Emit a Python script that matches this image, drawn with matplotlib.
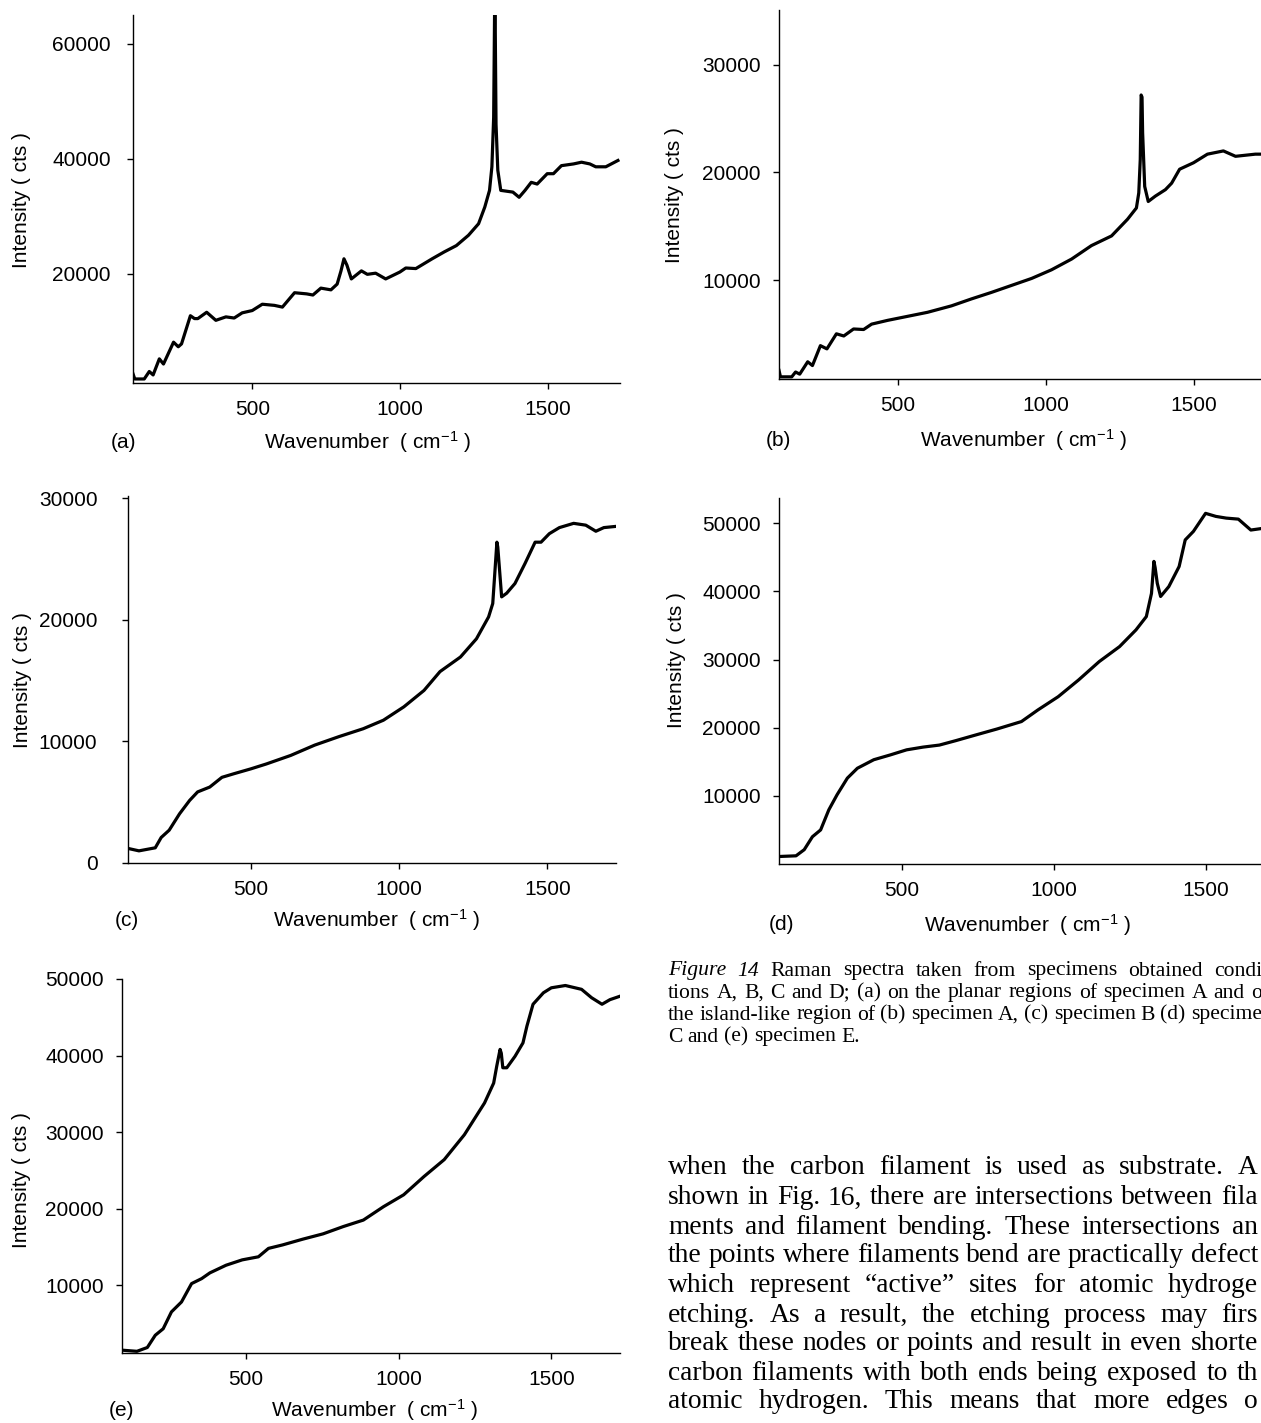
import numpy as np
import matplotlib
matplotlib.use("Agg")
import matplotlib.pyplot as plt

plt.rcParams['font.family'] = ['Liberation Sans', 'DejaVu Sans']
plt.rcParams['mathtext.fontset'] = 'custom'
plt.rcParams['mathtext.rm'] = 'Liberation Sans'
plt.rcParams['mathtext.default'] = 'regular'

W, H = 1261, 1423

# spectrum (a) - planar region, specimen A
a_wn = [97, 103, 135, 152, 165, 186, 200, 234, 250, 261, 291, 305, 316, 346, 377, 411, 439, 466,
        500, 534, 575, 602, 643, 684, 705, 732, 766, 787, 800, 810, 820, 835, 869, 889, 917, 951,
        999, 1019, 1053, 1108, 1149, 1190, 1231, 1265, 1286, 1302, 1310, 1316, 1319, 1321, 1324,
        1330, 1340, 1381, 1402, 1422, 1443, 1463, 1497, 1518, 1545, 1586, 1613, 1641, 1661, 1695, 1736]
a_int = [2600, 1700, 1700, 3000, 2400, 5200, 4300, 8100, 7300, 7800, 12700, 12200, 12200, 13300,
         11900, 12500, 12300, 13200, 13600, 14700, 14500, 14200, 16700, 16500, 16300, 17500, 17200,
         18200, 20500, 22600, 21500, 19100, 20500, 19900, 20100, 19100, 20300, 21000, 20900, 22600,
         23800, 24900, 26700, 28700, 31600, 34500, 38600, 47200, 65000, 65000, 46000, 38000, 34500,
         34200, 33300, 34500, 35900, 35600, 37400, 37400, 38800, 39100, 39400, 39100, 38600, 38600, 39700]

# spectrum (b) - island-like region, specimen A
b_wn = [99, 104, 142, 155, 169, 196, 212, 239, 261, 293, 318, 351, 385, 412, 466, 520, 601, 682,
        750, 817, 885, 953, 1020, 1088, 1155, 1223, 1277, 1307, 1315, 1320, 1323, 1326, 1328, 1335,
        1347, 1371, 1405, 1426, 1453, 1500, 1547, 1601, 1642, 1709, 1745]
b_int = [1600, 1000, 1000, 1450, 1250, 2400, 2050, 3900, 3600, 5000, 4800, 5450, 5400, 5900, 6250,
         6550, 7000, 7600, 8250, 8850, 9500, 10150, 10950, 11950, 13200, 14100, 15650, 16700, 18100,
         21200, 27200, 27000, 23700, 18700, 17300, 17800, 18400, 19000, 20300, 20900, 21700, 22000,
         21500, 21700, 21700]

# spectrum (c) - specimen B
c_wn = [85, 122, 177, 197, 224, 259, 293, 320, 361, 402, 443, 500, 552, 634, 715, 797, 879, 947,
        1016, 1084, 1138, 1207, 1261, 1302, 1316, 1322, 1330, 1333, 1340, 1346, 1363, 1391, 1425,
        1459, 1479, 1507, 1541, 1589, 1630, 1664, 1691, 1732]
c_int = [1200, 1000, 1250, 2100, 2700, 4050, 5150, 5850, 6250, 7050, 7350, 7750, 8150, 8850, 9700,
         10400, 11050, 11750, 12850, 14200, 15750, 16950, 18450, 20250, 21350, 23500, 26400, 26000,
         23800, 21900, 22200, 23000, 24650, 26400, 26400, 27100, 27600, 27950, 27800, 27300, 27600, 27700]

# spectrum (d) - specimen C
d_wn = [96, 152, 179, 206, 233, 260, 287, 321, 354, 408, 462, 516, 570, 624, 678, 745, 813, 894,
        948, 1015, 1082, 1150, 1217, 1271, 1305, 1322, 1330, 1334, 1341, 1352, 1379, 1413, 1433,
        1460, 1500, 1534, 1568, 1608, 1649, 1689, 1745]
d_int = [1100, 1200, 2100, 4000, 5000, 7950, 10150, 12600, 14050, 15300, 16000, 16750, 17150, 17450,
         18100, 18950, 19800, 20900, 22600, 24550, 27000, 29700, 31900, 34350, 36300, 39700, 44400,
         43500, 41200, 39250, 40700, 43650, 47550, 48800, 51450, 51000, 50750, 50600, 49000, 49250, 49300]

# spectrum (e) - specimen E
e_wn = [93, 142, 176, 202, 228, 255, 288, 321, 354, 381, 434, 487, 540, 573, 619, 685, 752, 818,
        884, 950, 1016, 1083, 1149, 1215, 1281, 1311, 1321, 1332, 1336, 1341, 1354, 1381, 1407,
        1420, 1440, 1474, 1500, 1546, 1599, 1632, 1666, 1692, 1725]
e_int = [1500, 1350, 1850, 3450, 4300, 6500, 7800, 10200, 10850, 11600, 12600, 13300, 13700, 14800,
         15250, 16000, 16700, 17650, 18500, 20250, 21800, 24200, 26400, 29650, 33800, 36400, 38600,
         40800, 40300, 38400, 38400, 39900, 41650, 43850, 46700, 48200, 48850, 49150, 48650, 47550,
         46700, 47300, 47750]

a_yticks = [20000, 40000, 60000]
b_yticks = [10000, 20000, 30000]
c_yticks = [0, 10000, 20000, 30000]
d_yticks = [10000, 20000, 30000, 40000, 50000]
e_yticks = [10000, 20000, 30000, 40000, 50000]
xticks = [500, 1000, 1500]

caption = [
    'Raman spectra taken from specimens obtained condi',
    'tions A, B, C and D; (a) on the planar regions of specimen A and o',
    'the island-like region of (b) specimen A, (c) specimen B (d) specime',
    'C and (e) specimen E.',
]
body = [
    'when the carbon filament is used as substrate. A',
    'shown in Fig. 16, there are intersections between fila',
    'ments and filament bending. These intersections an',
    'the points where filaments bend are practically defect',
    'which represent \u201cactive\u201d sites for atomic hydroge',
    'etching. As a result, the etching process may firs',
    'break these nodes or points and result in even shorte',
    'carbon filaments with both ends being exposed to th',
    'atomic hydrogen. This means that more edges o',
]

fig = plt.figure(figsize=(W / 100, H / 100), dpi=100)
renderer = fig.canvas.get_renderer()
SERIF = 'Liberation Serif'


def px(x, y):
    return x / W, 1 - y / H


def add_panel(box, wn, inten, xlim, ylim, yticks, ypad, letter, letter_xy, xlab_xy, ylab_xy):
    left, right, top, bottom = box
    ax = fig.add_axes([left / W, 1 - bottom / H, (right - left) / W, (bottom - top) / H])
    ax.plot(wn, inten, color='black', lw=2.3, solid_joinstyle='round')
    ax.set_xlim(*xlim)
    ax.set_ylim(*ylim)
    ax.set_xticks(xticks)
    ax.set_yticks(yticks)
    for s in ['top', 'right']:
        ax.spines[s].set_visible(False)
    for s in ['left', 'bottom']:
        ax.spines[s].set_linewidth(1.0)
    ax.tick_params(direction='out', length=4, width=1, labelsize=15)
    ax.tick_params(axis='x', pad=8)
    ax.tick_params(axis='y', pad=ypad)
    fig.text(*px(*letter_xy), f'({letter})', fontsize=15, ha='center', va='center')
    fig.text(*px(*xlab_xy), r'Wavenumber  ( cm$^{-1}$ )', fontsize=15, ha='center', va='center')
    fig.text(*px(*ylab_xy), 'Intensity ( cts )', fontsize=15, rotation=90,
             ha='center', va='center')
    return ax


add_panel((133, 620, 15, 383), a_wn, a_int, (97, 1743), (1000, 65000), a_yticks, 12,
          'a', (123, 442), (368, 442), (22, 200))
add_panel((779, 1266, 10, 379), b_wn, b_int, (99, 1745), (800, 35100), b_yticks, 9,
          'b', (778, 440), (1024, 440), (675, 195))
add_panel((128, 616, 496, 863), c_wn, c_int, (85, 1732), (0, 30200), c_yticks, 18,
          'c', (127, 920), (377, 920), (23, 680))
add_panel((779, 1280, 498, 864), d_wn, d_int, (96, 1745), (0, 53700), d_yticks, 9,
          'd', (782, 925), (1028, 925), (677, 660))
add_panel((122, 620, 979, 1353), e_wn, e_int, (93, 1725), (1130, 50000), e_yticks, 9,
          'e', (121, 1410), (375, 1410), (22, 1180))


def text_width(s, size, style='normal'):
    t = fig.text(0, 0, s, fontsize=size, family=SERIF, style=style)
    w = t.get_window_extent(renderer).width
    t.remove()
    return w


def fit_size(line, target):
    # font size that makes a tightly set line span the target width
    return 10 * target / text_width(line, 10)


def justify(words, x0, x1, y, size, last=False):
    texts = []
    for w, style in words:
        texts.append(fig.text(0, 1 - y / H, w, fontsize=size, family=SERIF,
                              style=style, ha='left', va='center'))
    widths = [t.get_window_extent(renderer).width for t in texts]
    if last:
        gap = text_width('a b', size) - text_width('ab', size)
    else:
        gap = (x1 - x0 - sum(widths)) / (len(words) - 1)
    x = x0
    for t, w in zip(texts, widths):
        t.set_x(x / W)
        x += w + gap


cap_size = fit_size(caption[2], 1262 - 668)
cap_y = [971, 993, 1015, 1037]
for i, (line, y) in enumerate(zip(caption, cap_y)):
    words = [(w, 'normal') for w in line.split()]
    if i == 0:
        words = [('Figure', 'italic'), ('14', 'italic')] + words
    justify(words, 668, 1262, y, cap_size, last=(i == 3))

body_size = fit_size(body[3], 1258 - 668)
body_y = [1168, 1198, 1227, 1256, 1286, 1315, 1344, 1373, 1402]
for line, y in zip(body, body_y):
    justify([(w, 'normal') for w in line.split()], 668, 1258, y, body_size)

fig.savefig('out.png', dpi=100)
